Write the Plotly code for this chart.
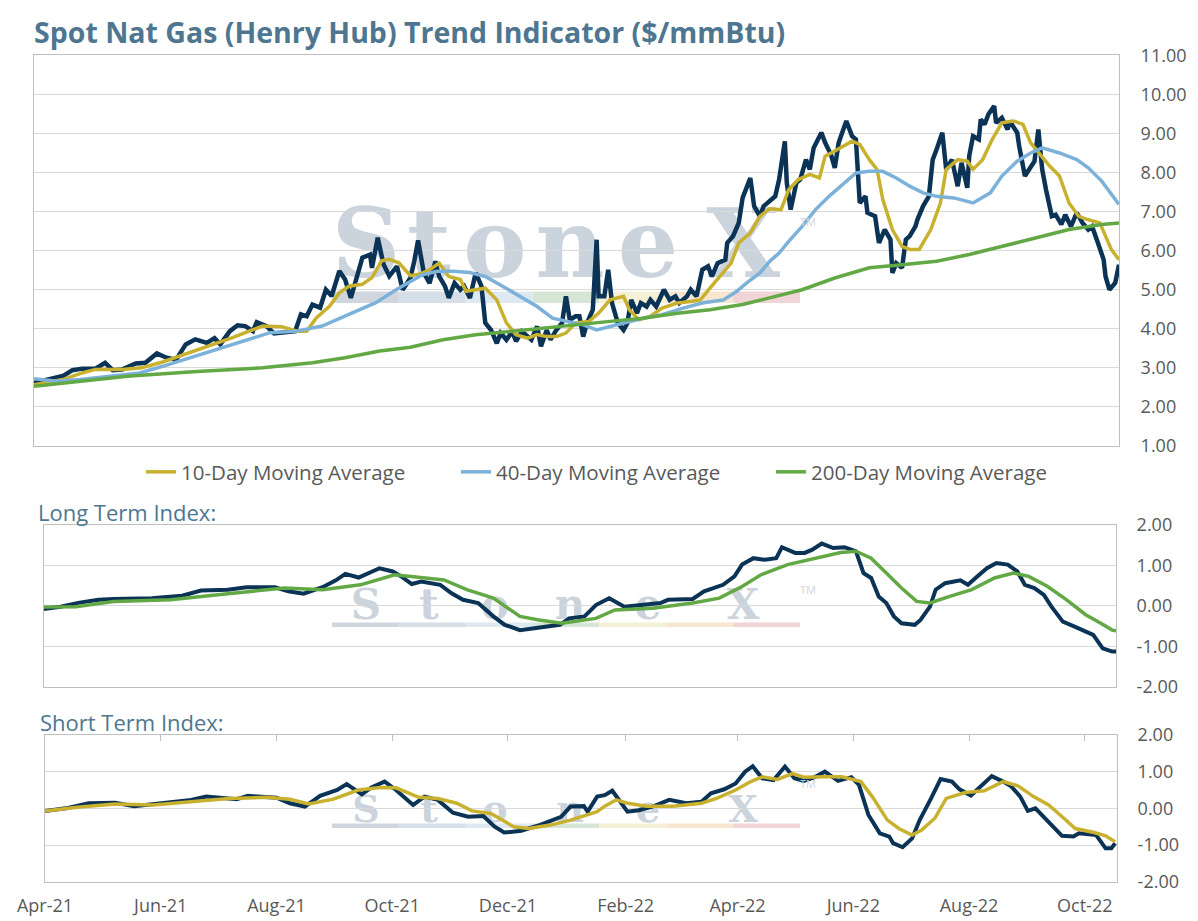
import plotly.graph_objects as go

# the page body keeps its default 8px margin, so the figure is drawn 8px in
# from the top-left corner of the 1198x921 window
OFF = 8
W, H = 1198 - OFF, 921 - OFF

# ---------------------------------------------------------------
# Spot Nat Gas (Henry Hub) price and its moving averages ($/mmBtu)
# ---------------------------------------------------------------
spot_dates = [
    "2021-04-01", "2021-04-11", "2021-04-16", "2021-04-21", "2021-04-26", "2021-05-03",
    "2021-05-08", "2021-05-12", "2021-05-17", "2021-05-24", "2021-05-29", "2021-06-04",
    "2021-06-09", "2021-06-14", "2021-06-19", "2021-06-24", "2021-06-30", "2021-07-04",
    "2021-07-07", "2021-07-12", "2021-07-16", "2021-07-20", "2021-07-24", "2021-07-26",
    "2021-07-31", "2021-08-04", "2021-08-08", "2021-08-14", "2021-08-15", "2021-08-18",
    "2021-08-21", "2021-08-24", "2021-08-28", "2021-08-31", "2021-09-03", "2021-09-07",
    "2021-09-10", "2021-09-13", "2021-09-17", "2021-09-19", "2021-09-23", "2021-09-24",
    "2021-09-27", "2021-09-30", "2021-10-03", "2021-10-07", "2021-10-10", "2021-10-14",
    "2021-10-16", "2021-10-18", "2021-10-21", "2021-10-24", "2021-10-27", "2021-10-29",
    "2021-11-01", "2021-11-03", "2021-11-06", "2021-11-09", "2021-11-11", "2021-11-14",
    "2021-11-17", "2021-11-20", "2021-11-22", "2021-11-25", "2021-11-28", "2021-11-30",
    "2021-12-03", "2021-12-06", "2021-12-08", "2021-12-11", "2021-12-13", "2021-12-16",
    "2021-12-19", "2021-12-21", "2021-12-24", "2021-12-26", "2021-12-29", "2022-01-01",
    "2022-01-03", "2022-01-05", "2022-01-08", "2022-01-10", "2022-01-12", "2022-01-14",
    "2022-01-17", "2022-01-19", "2022-01-20", "2022-01-23", "2022-01-25", "2022-01-27",
    "2022-01-30", "2022-02-02", "2022-02-04", "2022-02-06", "2022-02-09", "2022-02-11",
    "2022-02-14", "2022-02-16", "2022-02-19", "2022-02-23", "2022-02-26", "2022-03-01",
    "2022-03-03", "2022-03-07", "2022-03-09", "2022-03-12", "2022-03-15", "2022-03-18",
    "2022-03-20", "2022-03-23", "2022-03-27", "2022-03-28", "2022-03-31", "2022-04-03",
    "2022-04-05", "2022-04-09", "2022-04-11", "2022-04-14", "2022-04-16", "2022-04-19",
    "2022-04-22", "2022-04-24", "2022-04-27", "2022-04-28", "2022-04-30", "2022-05-03",
    "2022-05-05", "2022-05-08", "2022-05-10", "2022-05-12", "2022-05-16", "2022-05-18",
    "2022-05-21", "2022-05-23", "2022-05-25", "2022-05-29", "2022-06-01", "2022-06-03",
    "2022-06-05", "2022-06-08", "2022-06-09", "2022-06-13", "2022-06-15", "2022-06-18",
    "2022-06-21", "2022-06-22", "2022-06-24", "2022-06-27", "2022-06-29", "2022-07-01",
    "2022-07-04", "2022-07-05", "2022-07-08", "2022-07-11", "2022-07-13", "2022-07-15",
    "2022-07-18", "2022-07-20", "2022-07-23", "2022-07-26", "2022-07-28", "2022-07-31",
    "2022-08-01", "2022-08-03", "2022-08-06", "2022-08-07", "2022-08-09", "2022-08-11",
    "2022-08-14", "2022-08-15", "2022-08-18", "2022-08-21", "2022-08-22", "2022-08-26",
    "2022-08-27", "2022-08-30", "2022-09-02", "2022-09-04", "2022-09-06", "2022-09-08",
    "2022-09-10", "2022-09-13", "2022-09-15", "2022-09-18", "2022-09-20", "2022-09-23",
    "2022-09-26", "2022-09-29", "2022-10-02", "2022-10-04", "2022-10-07", "2022-10-10",
    "2022-10-11", "2022-10-13", "2022-10-16", "2022-10-18",
]
spot_price = [
    2.62, 2.74, 2.79, 2.94, 2.98, 2.98,
    3.13, 2.94, 2.96, 3.11, 3.13, 3.37,
    3.26, 3.21, 3.60, 3.73, 3.64, 3.76,
    3.60, 3.94, 4.09, 4.07, 3.94, 4.17,
    4.07, 3.88, 3.90, 3.91, 3.94, 4.37,
    4.32, 4.62, 4.54, 5.00, 4.84, 5.48,
    5.26, 4.79, 5.48, 5.82, 5.90, 5.56,
    6.33, 5.65, 5.35, 5.60, 5.00, 5.30,
    5.73, 6.26, 5.43, 5.17, 5.73, 5.34,
    5.09, 4.79, 5.17, 5.00, 5.09, 4.79,
    5.43, 5.09, 4.15, 3.97, 3.63, 3.89,
    3.72, 3.93, 3.68, 3.93, 3.85, 3.72,
    4.06, 3.55, 3.97, 3.72, 3.97, 4.15,
    4.83, 4.23, 4.32, 4.32, 3.80, 4.15,
    4.49, 6.28, 4.83, 4.83, 5.51, 4.66,
    4.15, 3.97, 4.15, 4.74, 4.40, 4.66,
    4.57, 4.74, 4.57, 5.00, 4.74, 4.83,
    4.66, 4.83, 5.00, 4.83, 5.51, 5.60,
    5.34, 5.68, 5.77, 6.20, 6.37, 6.71,
    7.35, 7.86, 7.14, 6.88, 7.14, 7.25,
    7.39, 7.82, 8.80, 7.74, 7.05, 7.74,
    7.82, 8.33, 8.08, 8.63, 9.02, 8.76,
    8.46, 8.12, 8.76, 9.32, 8.93, 8.85,
    7.22, 7.39, 6.97, 6.88, 6.20, 6.54,
    6.28, 5.43, 5.68, 5.56, 6.28, 6.37,
    6.62, 6.79, 7.14, 7.39, 8.33, 8.59,
    9.02, 8.08, 8.33, 7.65, 8.25, 7.61,
    8.42, 8.93, 8.85, 9.36, 9.23, 9.49,
    9.70, 9.27, 9.40, 9.10, 9.32, 9.02,
    8.68, 7.91, 8.16, 8.29, 9.10, 8.08,
    7.56, 6.88, 6.92, 6.67, 6.92, 6.62,
    6.97, 6.71, 6.54, 6.62, 6.20, 5.77,
    5.34, 5.00, 5.17, 5.64,
]

ma10_dates = [
    "2021-04-01", "2021-04-16", "2021-04-26", "2021-05-03", "2021-05-17", "2021-05-27",
    "2021-06-07", "2021-06-16", "2021-06-25", "2021-07-05", "2021-07-13", "2021-07-22",
    "2021-07-29", "2021-08-08", "2021-08-16", "2021-08-21", "2021-08-26", "2021-09-02",
    "2021-09-07", "2021-09-12", "2021-09-19", "2021-09-24", "2021-09-29", "2021-10-03",
    "2021-10-08", "2021-10-14", "2021-10-19", "2021-10-24", "2021-10-29", "2021-11-03",
    "2021-11-09", "2021-11-12", "2021-11-17", "2021-11-22", "2021-11-28", "2021-12-03",
    "2021-12-08", "2021-12-14", "2021-12-19", "2021-12-24", "2021-12-29", "2022-01-03",
    "2022-01-08", "2022-01-15", "2022-01-20", "2022-01-26", "2022-02-02", "2022-02-05",
    "2022-02-10", "2022-02-16", "2022-02-22", "2022-03-02", "2022-03-09", "2022-03-14",
    "2022-03-19", "2022-03-24", "2022-03-30", "2022-04-03", "2022-04-09", "2022-04-14",
    "2022-04-19", "2022-04-25", "2022-04-29", "2022-05-04", "2022-05-10", "2022-05-15",
    "2022-05-18", "2022-05-23", "2022-05-29", "2022-06-01", "2022-06-05", "2022-06-10",
    "2022-06-14", "2022-06-17", "2022-06-22", "2022-06-27", "2022-07-01", "2022-07-06",
    "2022-07-12", "2022-07-17", "2022-07-20", "2022-07-26", "2022-07-31", "2022-08-03",
    "2022-08-08", "2022-08-13", "2022-08-18", "2022-08-24", "2022-08-29", "2022-09-02",
    "2022-09-07", "2022-09-12", "2022-09-17", "2022-09-22", "2022-09-27", "2022-10-02",
    "2022-10-08", "2022-10-11", "2022-10-14", "2022-10-18",
]
ma10 = [
    2.57, 2.70, 2.87, 2.96, 2.96, 3.00,
    3.15, 3.30, 3.47, 3.64, 3.77, 3.94,
    4.07, 4.05, 3.94, 3.94, 4.28, 4.58,
    4.92, 5.09, 5.14, 5.31, 5.74, 5.78,
    5.69, 5.36, 5.40, 5.51, 5.68, 5.34,
    5.26, 4.96, 5.00, 5.04, 4.74, 4.15,
    3.85, 3.76, 3.85, 3.80, 3.80, 3.89,
    4.15, 4.19, 4.40, 4.74, 4.83, 4.49,
    4.23, 4.32, 4.53, 4.66, 4.70, 4.74,
    5.04, 5.34, 5.68, 6.20, 6.45, 6.88,
    7.07, 7.05, 7.56, 7.82, 7.95, 7.86,
    8.42, 8.55, 8.72, 8.80, 8.72, 8.33,
    8.08, 7.31, 6.54, 6.11, 6.03, 6.03,
    6.54, 7.22, 8.08, 8.33, 8.29, 8.08,
    8.33, 8.85, 9.27, 9.32, 9.23, 8.76,
    8.46, 8.16, 7.91, 7.22, 6.88, 6.79,
    6.71, 6.37, 6.03, 5.77,
]

ma40_dates = [
    "2021-04-01", "2021-04-13", "2021-04-25", "2021-05-12", "2021-05-26", "2021-06-07",
    "2021-06-21", "2021-07-05", "2021-07-18", "2021-08-02", "2021-08-16", "2021-08-29",
    "2021-09-12", "2021-09-26", "2021-10-07", "2021-10-14", "2021-10-20", "2021-10-28",
    "2021-11-05", "2021-11-14", "2021-11-22", "2021-12-01", "2021-12-10", "2021-12-19",
    "2021-12-27", "2022-01-03", "2022-01-12", "2022-01-19", "2022-01-26", "2022-02-04",
    "2022-02-12", "2022-02-22", "2022-03-05", "2022-03-15", "2022-03-26", "2022-04-02",
    "2022-04-07", "2022-04-14", "2022-04-19", "2022-04-24", "2022-04-29", "2022-05-06",
    "2022-05-13", "2022-05-20", "2022-05-27", "2022-06-03", "2022-06-10", "2022-06-17",
    "2022-06-24", "2022-07-01", "2022-07-08", "2022-07-15", "2022-07-24", "2022-08-03",
    "2022-08-12", "2022-08-18", "2022-08-26", "2022-09-02", "2022-09-08", "2022-09-17",
    "2022-09-26", "2022-10-02", "2022-10-09", "2022-10-18",
]
ma40 = [
    2.72, 2.66, 2.70, 2.79, 2.87, 3.04,
    3.26, 3.47, 3.68, 3.90, 3.94, 4.07,
    4.37, 4.67, 5.01, 5.21, 5.38, 5.47,
    5.47, 5.44, 5.34, 5.09, 4.83, 4.57,
    4.27, 4.19, 4.10, 3.97, 4.06, 4.19,
    4.27, 4.36, 4.53, 4.66, 4.74, 4.96,
    5.17, 5.43, 5.72, 5.94, 6.24, 6.62,
    7.05, 7.39, 7.69, 7.99, 8.03, 8.03,
    7.86, 7.65, 7.48, 7.39, 7.35, 7.22,
    7.48, 7.91, 8.29, 8.50, 8.63, 8.50,
    8.33, 8.12, 7.78, 7.18,
]

ma200_dates = [
    "2021-04-01", "2021-04-25", "2021-05-21", "2021-06-25", "2021-07-29", "2021-08-24",
    "2021-09-10", "2021-09-28", "2021-10-14", "2021-10-31", "2021-11-17", "2021-12-05",
    "2021-12-22", "2022-01-08", "2022-01-26", "2022-02-12", "2022-03-02", "2022-03-19",
    "2022-04-05", "2022-04-19", "2022-05-06", "2022-05-23", "2022-06-10", "2022-06-27",
    "2022-07-15", "2022-08-01", "2022-08-18", "2022-09-05", "2022-09-22", "2022-10-09",
    "2022-10-18",
]
ma200 = [
    2.53, 2.66, 2.79, 2.91, 3.00, 3.13,
    3.26, 3.43, 3.53, 3.72, 3.85, 3.93,
    4.02, 4.10, 4.19, 4.27, 4.40, 4.49,
    4.62, 4.79, 5.00, 5.30, 5.56, 5.64,
    5.73, 5.90, 6.11, 6.32, 6.54, 6.67,
    6.71,
]

# ---------------------------------------------------------------
# Long Term Index
# ---------------------------------------------------------------
lt_dates = [
    "2021-04-01", "2021-04-10", "2021-04-20", "2021-04-30", "2021-05-08", "2021-05-28",
    "2021-06-13", "2021-06-23", "2021-07-07", "2021-07-17", "2021-08-01", "2021-08-08",
    "2021-08-16", "2021-08-26", "2021-09-02", "2021-09-07", "2021-09-14", "2021-09-25",
    "2021-10-02", "2021-10-07", "2021-10-12", "2021-10-17", "2021-10-27", "2021-11-02",
    "2021-11-08", "2021-11-16", "2021-11-24", "2021-11-30", "2021-12-08", "2021-12-18",
    "2021-12-29", "2022-01-03", "2022-01-11", "2022-01-17", "2022-01-24", "2022-02-01",
    "2022-02-10", "2022-02-20", "2022-02-24", "2022-03-09", "2022-03-15", "2022-03-25",
    "2022-03-31", "2022-04-04", "2022-04-10", "2022-04-16", "2022-04-22", "2022-04-25",
    "2022-05-02", "2022-05-07", "2022-05-11", "2022-05-16", "2022-05-22", "2022-05-28",
    "2022-06-03", "2022-06-07", "2022-06-11", "2022-06-15", "2022-06-19", "2022-06-23",
    "2022-06-27", "2022-07-04", "2022-07-07", "2022-07-12", "2022-07-15", "2022-07-20",
    "2022-07-28", "2022-08-01", "2022-08-05", "2022-08-11", "2022-08-16", "2022-08-22",
    "2022-08-27", "2022-08-31", "2022-09-05", "2022-09-10", "2022-09-14", "2022-09-20",
    "2022-09-28", "2022-10-06", "2022-10-11", "2022-10-16", "2022-10-18",
]
lt_index = [
    -0.08, -0.02, 0.08, 0.15, 0.17, 0.19,
    0.25, 0.38, 0.40, 0.46, 0.46, 0.36,
    0.30, 0.46, 0.63, 0.79, 0.70, 0.93,
    0.85, 0.71, 0.54, 0.60, 0.52, 0.31,
    0.15, 0.07, -0.26, -0.47, -0.60, -0.53,
    -0.47, -0.31, -0.26, 0.02, 0.19, -0.02,
    0.02, 0.07, 0.15, 0.17, 0.36, 0.52,
    0.73, 1.02, 1.18, 1.14, 1.18, 1.45,
    1.31, 1.31, 1.39, 1.54, 1.43, 1.45,
    1.35, 0.81, 0.69, 0.23, 0.07, -0.26,
    -0.43, -0.47, -0.35, -0.02, 0.40, 0.56,
    0.63, 0.52, 0.69, 0.93, 1.06, 1.02,
    0.85, 0.52, 0.44, 0.27, -0.02, -0.39,
    -0.55, -0.72, -1.05, -1.13, -1.13,
]

lt_avg_dates = [
    "2021-04-01", "2021-04-18", "2021-05-08", "2021-06-07", "2021-07-07", "2021-08-06",
    "2021-08-26", "2021-09-15", "2021-10-03", "2021-10-15", "2021-10-29", "2021-11-10",
    "2021-11-24", "2021-12-08", "2021-12-18", "2021-12-30", "2022-01-17", "2022-01-27",
    "2022-02-16", "2022-03-09", "2022-03-23", "2022-04-04", "2022-04-14", "2022-04-28",
    "2022-05-14", "2022-05-26", "2022-06-03", "2022-06-11", "2022-06-19", "2022-06-27",
    "2022-07-05", "2022-07-12", "2022-07-22", "2022-08-03", "2022-08-15", "2022-08-25",
    "2022-09-02", "2022-09-12", "2022-09-22", "2022-10-02", "2022-10-10", "2022-10-16",
    "2022-10-18",
]
lt_avg = [
    -0.03, -0.02, 0.11, 0.15, 0.30, 0.44,
    0.40, 0.52, 0.77, 0.71, 0.64, 0.40,
    0.19, -0.26, -0.35, -0.43, -0.31, -0.10,
    -0.06, 0.07, 0.19, 0.48, 0.77, 1.02,
    1.18, 1.32, 1.35, 1.18, 0.81, 0.44,
    0.11, 0.07, 0.23, 0.40, 0.69, 0.81,
    0.73, 0.48, 0.15, -0.22, -0.43, -0.60,
    -0.62,
]

# ---------------------------------------------------------------
# Short Term Index
# ---------------------------------------------------------------
st_dates = [
    "2021-04-01", "2021-04-12", "2021-04-24", "2021-05-08", "2021-05-18", "2021-06-03",
    "2021-06-17", "2021-06-25", "2021-07-11", "2021-07-17", "2021-08-01", "2021-08-08",
    "2021-08-16", "2021-08-24", "2021-09-02", "2021-09-07", "2021-09-15", "2021-09-20",
    "2021-09-27", "2021-10-03", "2021-10-12", "2021-10-18", "2021-10-25", "2021-11-02",
    "2021-11-10", "2021-11-18", "2021-11-24", "2021-11-29", "2021-12-08", "2021-12-18",
    "2021-12-29", "2022-01-03", "2022-01-10", "2022-01-12", "2022-01-17", "2022-01-21",
    "2022-01-25", "2022-02-02", "2022-02-08", "2022-02-16", "2022-02-24", "2022-03-05",
    "2022-03-13", "2022-03-18", "2022-03-25", "2022-03-31", "2022-04-05", "2022-04-09",
    "2022-04-14", "2022-04-20", "2022-04-26", "2022-05-01", "2022-05-06", "2022-05-12",
    "2022-05-17", "2022-05-24", "2022-05-31", "2022-06-04", "2022-06-09", "2022-06-15",
    "2022-06-20", "2022-06-22", "2022-06-27", "2022-07-02", "2022-07-06", "2022-07-12",
    "2022-07-17", "2022-07-23", "2022-07-27", "2022-08-02", "2022-08-06", "2022-08-13",
    "2022-08-19", "2022-08-23", "2022-08-28", "2022-09-01", "2022-09-05", "2022-09-10",
    "2022-09-15", "2022-09-19", "2022-09-25", "2022-09-28", "2022-10-07", "2022-10-12",
    "2022-10-15", "2022-10-17",
]
st_index = [
    -0.07, 0.00, 0.14, 0.15, 0.06, 0.14,
    0.23, 0.32, 0.25, 0.34, 0.29, 0.14,
    0.05, 0.34, 0.50, 0.66, 0.38, 0.57,
    0.73, 0.50, 0.09, 0.32, 0.23, -0.12,
    -0.23, -0.21, -0.50, -0.66, -0.61, -0.45,
    -0.23, 0.05, 0.06, -0.09, 0.32, 0.36,
    0.48, -0.09, -0.05, 0.06, 0.23, 0.14,
    0.18, 0.41, 0.52, 0.68, 1.00, 1.15,
    0.82, 0.77, 1.14, 0.82, 0.75, 0.86,
    1.00, 0.75, 0.85, 0.64, -0.18, -0.68,
    -0.77, -0.95, -1.06, -0.82, -0.32, 0.27,
    0.80, 0.73, 0.52, 0.35, 0.55, 0.88,
    0.73, 0.61, 0.32, -0.07, 0.00, -0.27,
    -0.55, -0.75, -0.77, -0.68, -0.73, -1.09,
    -1.09, -0.95,
]

st_avg_dates = [
    "2021-04-01", "2021-04-18", "2021-05-08", "2021-05-28", "2021-06-17", "2021-07-07",
    "2021-07-27", "2021-08-08", "2021-08-18", "2021-08-31", "2021-09-13", "2021-09-25",
    "2021-10-03", "2021-10-15", "2021-10-25", "2021-11-04", "2021-11-12", "2021-11-22",
    "2021-12-04", "2021-12-12", "2021-12-24", "2022-01-03", "2022-01-17", "2022-01-21",
    "2022-01-27", "2022-02-02", "2022-02-12", "2022-02-26", "2022-03-13", "2022-03-21",
    "2022-03-31", "2022-04-08", "2022-04-14", "2022-04-22", "2022-04-30", "2022-05-06",
    "2022-05-18", "2022-05-26", "2022-06-05", "2022-06-11", "2022-06-19", "2022-06-25",
    "2022-07-02", "2022-07-07", "2022-07-14", "2022-07-20", "2022-07-30", "2022-08-09",
    "2022-08-19", "2022-08-27", "2022-09-04", "2022-09-12", "2022-09-20", "2022-09-26",
    "2022-10-06", "2022-10-12", "2022-10-17",
]
st_avg = [
    -0.07, 0.03, 0.12, 0.09, 0.18, 0.27,
    0.30, 0.25, 0.12, 0.25, 0.50, 0.57,
    0.56, 0.30, 0.27, 0.14, -0.07, -0.14,
    -0.50, -0.55, -0.45, -0.32, -0.09, 0.06,
    0.23, 0.14, 0.06, 0.06, 0.14, 0.27,
    0.50, 0.73, 0.86, 0.79, 0.95, 0.85,
    0.86, 0.86, 0.73, 0.32, -0.32, -0.55,
    -0.73, -0.59, -0.27, 0.27, 0.43, 0.48,
    0.73, 0.61, 0.32, 0.09, -0.27, -0.55,
    -0.66, -0.75, -0.91,
]

idx_ticks = [-2, -1, 0, 1, 2]
idx_ticktext = ["-2.00", "-1.00", "0.00", "1.00", "2.00"]
x_start, x_end = "2021-04-01", "2022-10-18"

NAVY = "#0b3356"
GOLD = "#c8b12e"
LBLUE = "#7cb1da"
GREEN = "#62a844"
TITLE_C = "#4e7690"
BORDER = "#bfbfbf"
GRID = "#d9d9d9"
FONT = "Open Sans"


# positions below are given in window pixels
def px(x):
    return (x - OFF) / W


def py(y):
    return 1 - (y - OFF) / H


fig = go.Figure()

# main panel
fig.add_trace(go.Scatter(x=spot_dates, y=spot_price, mode="lines", line=dict(color=NAVY, width=4.5),
                         showlegend=False, xaxis="x", yaxis="y"))
fig.add_trace(go.Scatter(x=ma10_dates, y=ma10, mode="lines", line=dict(color=GOLD, width=3.5),
                         name="10-Day Moving Average", xaxis="x", yaxis="y"))
fig.add_trace(go.Scatter(x=ma40_dates, y=ma40, mode="lines", line=dict(color=LBLUE, width=3.5),
                         name="40-Day Moving Average", xaxis="x", yaxis="y"))
fig.add_trace(go.Scatter(x=ma200_dates, y=ma200, mode="lines", line=dict(color=GREEN, width=3.5),
                         name="200-Day Moving Average", xaxis="x", yaxis="y"))

# long term panel
fig.add_trace(go.Scatter(x=lt_dates, y=lt_index, mode="lines", line=dict(color=NAVY, width=4),
                         showlegend=False, xaxis="x2", yaxis="y2"))
fig.add_trace(go.Scatter(x=lt_avg_dates, y=lt_avg, mode="lines", line=dict(color=GREEN, width=3.5),
                         showlegend=False, xaxis="x2", yaxis="y2"))

# short term panel (x4 is the same date axis as x3, it only adds the top tick marks)
fig.add_trace(go.Scatter(x=st_dates, y=st_index, mode="lines", line=dict(color=NAVY, width=4),
                         showlegend=False, xaxis="x3", yaxis="y3"))
fig.add_trace(go.Scatter(x=st_avg_dates, y=st_avg, mode="lines", line=dict(color=GOLD, width=3.5),
                         showlegend=False, xaxis="x4", yaxis="y3"))

box = dict(showline=True, linecolor=BORDER, linewidth=1, mirror=True, zeroline=False, automargin=False)
xcommon = dict(type="date", range=[x_start, x_end], showgrid=False, **box)

fig.update_layout(
    width=W, height=H,
    margin=dict(l=0, r=0, t=0, b=0, pad=0, autoexpand=False),
    paper_bgcolor="white",
    plot_bgcolor="rgba(0,0,0,0)",
    font=dict(family=FONT, size=18, color="#595959"),
    legend=dict(orientation="h", x=px(141), y=py(472), xanchor="left", yanchor="middle",
                entrywidth=270, font=dict(size=20.5, color="#595959"), bgcolor="rgba(0,0,0,0)"),
    xaxis=dict(domain=[px(34), px(1119)], anchor="y", showticklabels=False, **xcommon),
    yaxis=dict(domain=[py(446), py(55.3)], anchor="x", side="right", range=[1, 11], dtick=1, tick0=1,
               tickformat=".2f", gridcolor=GRID, ticklabelstandoff=17, **box),
    xaxis2=dict(domain=[px(43.5), px(1116)], anchor="y2", showticklabels=False, **xcommon),
    yaxis2=dict(domain=[py(686.7), py(525)], anchor="x2", side="right", range=[-2, 2],
                tickvals=idx_ticks, ticktext=idx_ticktext, gridcolor=GRID, ticklabelstandoff=16, **box),
    xaxis3=dict(domain=[px(45), px(1117)], anchor="y3", dtick="M2", tick0=x_start, tickformat="%b-%y",
                ticklabelstandoff=8, **xcommon),
    yaxis3=dict(domain=[py(881.7), py(735)], anchor="x3", side="right", range=[-2, 2],
                tickvals=idx_ticks, ticktext=idx_ticktext, gridcolor=GRID, ticklabelstandoff=16, **box),
    xaxis4=dict(domain=[px(45), px(1117)], anchor="y3", overlaying="x3", side="top", type="date",
                range=[x_start, x_end], dtick="M2", tick0=x_start, ticks="inside", ticklen=6,
                tickcolor=BORDER, showticklabels=False, showgrid=False, showline=False, zeroline=False,
                automargin=False),
)

# titles
fig.add_annotation(text="<b>Spot Nat Gas (Henry Hub) Trend Indicator ($/mmBtu)</b>", xref="paper", yref="paper",
                   x=px(32), y=py(32), xanchor="left", yanchor="middle", showarrow=False,
                   font=dict(size=28.5, color=TITLE_C))
fig.add_annotation(text="Long Term Index:", xref="paper", yref="paper", x=px(36), y=py(512),
                   xanchor="left", yanchor="middle", showarrow=False, font=dict(size=22, color=TITLE_C))
fig.add_annotation(text="Short Term Index:", xref="paper", yref="paper", x=px(38), y=py(722),
                   xanchor="left", yanchor="middle", showarrow=False, font=dict(size=22, color=TITLE_C))

# StoneX watermark behind each panel
letters = ["S", "t", "o", "n", "e", "X"]
letter_x = [366, 429, 495, 570, 648, 743]
bar_colors = ["#cfd6de", "#d6dee7", "#dde8f1", "#d5e5d6", "#f5f1d7", "#f7e6d0", "#f1d5d6"]


def watermark(mid_y, size, bar_top, bar_h, tm_y):
    for ch, cx in zip(letters, letter_x):
        fig.add_shape(type="rect", xref="paper", yref="paper", layer="below",
                      x0=px(cx - 45), x1=px(cx + 45), y0=py(mid_y + 40), y1=py(mid_y - 40),
                      line=dict(width=0), fillcolor="rgba(0,0,0,0)",
                      label=dict(text="<b>" + ch + "</b>", textposition="middle center",
                                 font=dict(family="DejaVu Serif", size=size, color="#cbd3dc")))
    seg = (800 - 332) / len(bar_colors)
    for i, c in enumerate(bar_colors):
        fig.add_shape(type="rect", xref="paper", yref="paper", layer="below",
                      x0=px(332 + i * seg), x1=px(332 + (i + 1) * seg),
                      y0=py(bar_top + bar_h), y1=py(bar_top), line=dict(width=0), fillcolor=c)
    fig.add_annotation(text="TM", xref="paper", yref="paper", x=px(818), y=py(tm_y), showarrow=False,
                       font=dict(size=11, color="#d0d6dd"))


watermark(237, 95, 291.5, 11.5, 212)
watermark(601, 42, 622.5, 4.5, 589)
watermark(806, 38, 823.5, 4.5, 793)

fig.write_html("out.html")
